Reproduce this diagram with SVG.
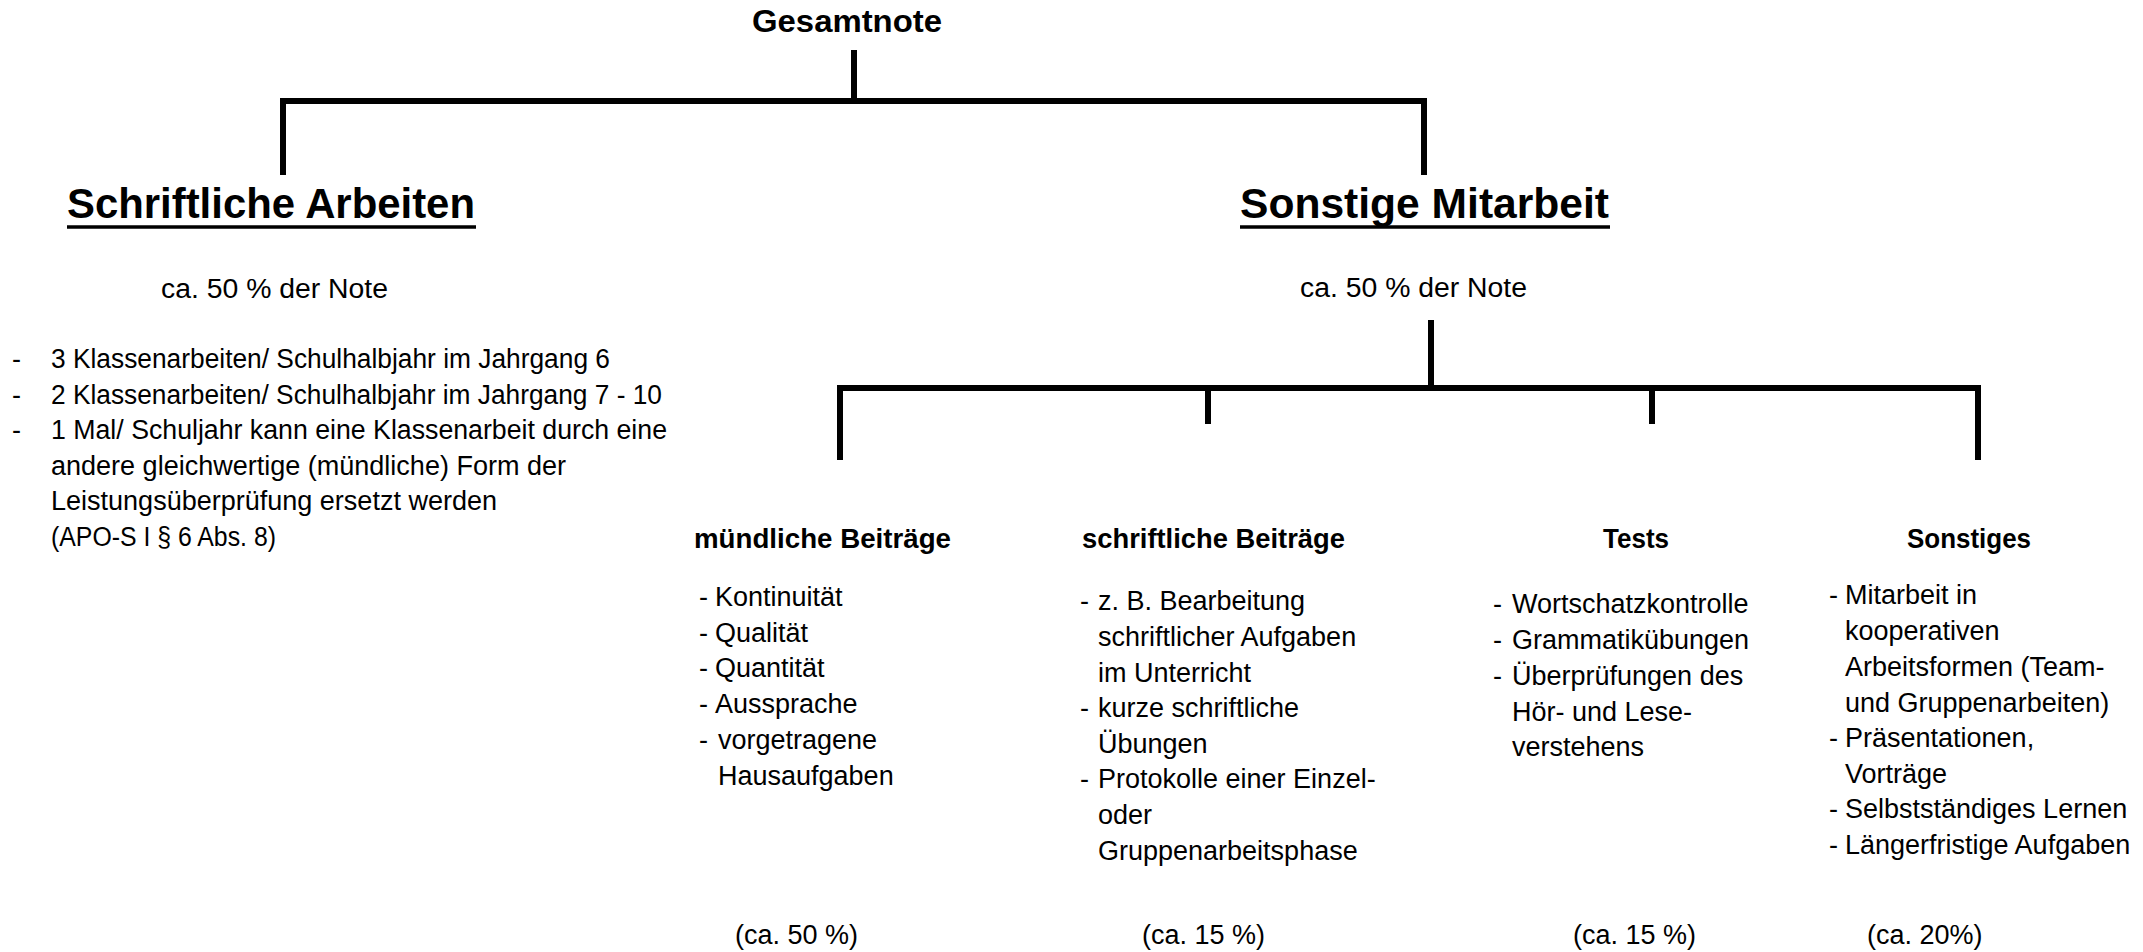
<svg xmlns="http://www.w3.org/2000/svg" width="2143" height="952" viewBox="0 0 2143 952">
<style>
.t{font-family:"Liberation Sans",Arial,sans-serif;font-size:27px;fill:#000}
.b{font-family:"Liberation Sans",Arial,sans-serif;font-weight:bold;fill:#000}
.h{font-size:42px}
.s{font-size:27px}
.c{fill:none;stroke:#000;stroke-width:6;stroke-linejoin:miter;stroke-linecap:butt}
.u{stroke:#000;stroke-width:3.5}
</style>
<rect width="2143" height="952" fill="#fff"/>
<g id="connectors">
<path class="c" d="M854,50 V101"/>
<path class="c" d="M283,175 V101 H1424 V175"/>
<path class="c" d="M1431,320 V388"/>
<path class="c" d="M840,460 V388 H1978 V460"/>
<path class="c" d="M1208,388 V424"/>
<path class="c" d="M1652,388 V424"/>
</g>
<g id="gesamtnote">
<text class="b" x="752" y="32" font-size="31" textLength="190" lengthAdjust="spacingAndGlyphs">Gesamtnote</text>
</g>
<g id="schriftliche-arbeiten">
<text class="b h" x="67" y="218" textLength="408" lengthAdjust="spacingAndGlyphs">Schriftliche Arbeiten</text>
<line class="u" x1="67" y1="227" x2="476" y2="227"/>
<text class="t" x="161" y="298" textLength="227" lengthAdjust="spacingAndGlyphs">ca. 50 % der Note</text>
<text class="t" x="12" y="368">-</text>
<text class="t" x="51" y="368" textLength="559" lengthAdjust="spacingAndGlyphs">3 Klassenarbeiten/ Schulhalbjahr im Jahrgang 6</text>
<text class="t" x="12" y="403.5">-</text>
<text class="t" x="51" y="403.5" textLength="611" lengthAdjust="spacingAndGlyphs">2 Klassenarbeiten/ Schulhalbjahr im Jahrgang 7 - 10</text>
<text class="t" x="12" y="439">-</text>
<text class="t" x="51" y="439" textLength="616" lengthAdjust="spacingAndGlyphs">1 Mal/ Schuljahr kann eine Klassenarbeit durch eine</text>
<text class="t" x="51" y="474.5" textLength="515" lengthAdjust="spacingAndGlyphs">andere gleichwertige (mündliche) Form der</text>
<text class="t" x="51" y="510" textLength="446" lengthAdjust="spacingAndGlyphs">Leistungsüberprüfung ersetzt werden</text>
<text class="t" x="51" y="545.5" textLength="225" lengthAdjust="spacingAndGlyphs">(APO-S I § 6 Abs. 8)</text>
</g>
<g id="sonstige-mitarbeit">
<text class="b h" x="1240" y="218" textLength="369" lengthAdjust="spacingAndGlyphs">Sonstige Mitarbeit</text>
<line class="u" x1="1240" y1="227" x2="1610" y2="227"/>
<text class="t" x="1300" y="297" textLength="227" lengthAdjust="spacingAndGlyphs">ca. 50 % der Note</text>
</g>
<g id="muendliche-beitraege">
<text class="b s" x="694" y="548" textLength="257" lengthAdjust="spacingAndGlyphs">mündliche Beiträge</text>
<text class="t"><tspan x="699" y="606">-</tspan><tspan x="715" y="606">Kontinuität</tspan><tspan x="699" y="642">-</tspan><tspan x="715" y="642">Qualität</tspan><tspan x="699" y="677">-</tspan><tspan x="715" y="677">Quantität</tspan><tspan x="699" y="713">-</tspan><tspan x="715" y="713">Aussprache</tspan><tspan x="699" y="749">-</tspan><tspan x="718" y="749">vorgetragene</tspan><tspan x="718" y="785">Hausaufgaben</tspan></text>
<text class="t" x="735" y="944">(ca. 50 %)</text>
</g>
<g id="schriftliche-beitraege">
<text class="b s" x="1082" y="548" textLength="263" lengthAdjust="spacingAndGlyphs">schriftliche Beiträge</text>
<text class="t"><tspan x="1080" y="610">-</tspan><tspan x="1098" y="610">z. B. Bearbeitung</tspan><tspan x="1098" y="646">schriftlicher Aufgaben</tspan><tspan x="1098" y="682">im Unterricht</tspan><tspan x="1080" y="717">-</tspan><tspan x="1098" y="717">kurze schriftliche</tspan><tspan x="1098" y="753">Übungen</tspan><tspan x="1080" y="788">-</tspan><tspan x="1098" y="788">Protokolle einer Einzel-</tspan><tspan x="1098" y="824">oder</tspan><tspan x="1098" y="860">Gruppenarbeitsphase</tspan></text>
<text class="t" x="1142" y="944">(ca. 15 %)</text>
</g>
<g id="tests">
<text class="b s" x="1603" y="548" textLength="66" lengthAdjust="spacingAndGlyphs">Tests</text>
<text class="t"><tspan x="1493" y="613">-</tspan><tspan x="1512" y="613">Wortschatzkontrolle</tspan><tspan x="1493" y="649">-</tspan><tspan x="1512" y="649">Grammatikübungen</tspan><tspan x="1493" y="685">-</tspan><tspan x="1512" y="685">Überprüfungen des</tspan><tspan x="1512" y="721">Hör- und Lese-</tspan><tspan x="1512" y="756">verstehens</tspan></text>
<text class="t" x="1573" y="944">(ca. 15 %)</text>
</g>
<g id="sonstiges">
<text class="b s" x="1907" y="548" textLength="124" lengthAdjust="spacingAndGlyphs">Sonstiges</text>
<text class="t"><tspan x="1829" y="604">-</tspan><tspan x="1845" y="604">Mitarbeit in</tspan><tspan x="1845" y="640">kooperativen</tspan><tspan x="1845" y="676">Arbeitsformen (Team-</tspan><tspan x="1845" y="712">und Gruppenarbeiten)</tspan><tspan x="1829" y="747">-</tspan><tspan x="1845" y="747">Präsentationen,</tspan><tspan x="1845" y="783">Vorträge</tspan><tspan x="1829" y="818">-</tspan><tspan x="1845" y="818">Selbstständiges Lernen</tspan><tspan x="1829" y="854">-</tspan><tspan x="1845" y="854">Längerfristige Aufgaben</tspan></text>
<text class="t" x="1867" y="944">(ca. 20%)</text>
</g>
</svg>
